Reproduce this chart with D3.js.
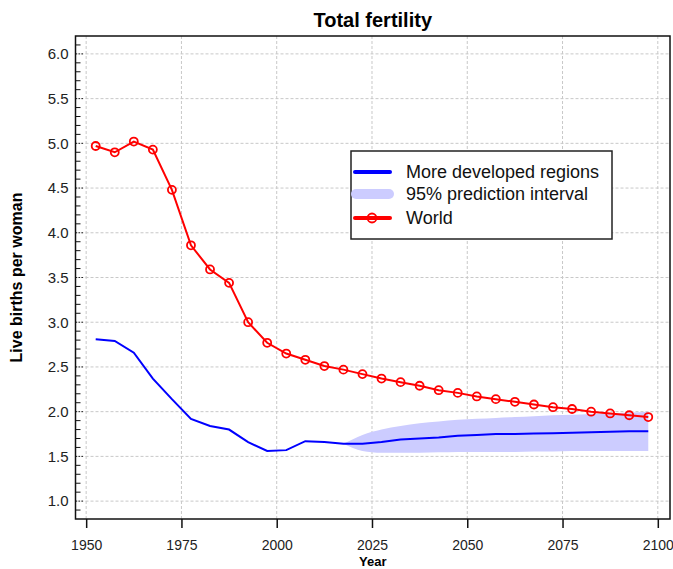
<!DOCTYPE html>
<html>
<head>
<meta charset="utf-8">
<script src="https://cdn.jsdelivr.net/npm/d3@7"></script>
<style>
  body { margin: 0; background: #fff; }
  text { font-family: "Liberation Sans", Arial, sans-serif; }
</style>
</head>
<body>
<div id="chart-root"></div>
<script>
// data (5-year period midpoints)
var years = [1952.5, 1957.5, 1962.5, 1967.5, 1972.5, 1977.5, 1982.5, 1987.5, 1992.5, 1997.5,
             2002.5, 2007.5, 2012.5, 2017.5, 2022.5, 2027.5, 2032.5, 2037.5, 2042.5, 2047.5,
             2052.5, 2057.5, 2062.5, 2067.5, 2072.5, 2077.5, 2082.5, 2087.5, 2092.5, 2097.5];
var world = [4.97, 4.90, 5.02, 4.93, 4.48, 3.86, 3.59, 3.44, 3.00, 2.77,
             2.65, 2.58, 2.51, 2.47, 2.42, 2.37, 2.33, 2.29, 2.24, 2.21,
             2.17, 2.14, 2.11, 2.08, 2.05, 2.03, 2.00, 1.98, 1.96, 1.94];
var developed = [2.81, 2.79, 2.66, 2.37, 2.14, 1.92, 1.84, 1.80, 1.66, 1.56,
                 1.57, 1.67, 1.66, 1.64, 1.64, 1.66, 1.69, 1.70, 1.71, 1.73,
                 1.74, 1.75, 1.75, 1.755, 1.76, 1.765, 1.77, 1.775, 1.78, 1.78];
// 95% prediction interval, starts at 2017.5
var piYears = [2017.5, 2022.5, 2027.5, 2032.5, 2037.5, 2042.5, 2047.5, 2052.5, 2057.5,
               2062.5, 2067.5, 2072.5, 2077.5, 2082.5, 2087.5, 2092.5, 2097.5];
var piLow  = [1.64, 1.56, 1.54, 1.54, 1.54, 1.545, 1.55, 1.55, 1.55,
              1.55, 1.555, 1.555, 1.56, 1.56, 1.56, 1.56, 1.56];
var piHigh = [1.64, 1.74, 1.80, 1.84, 1.87, 1.89, 1.91, 1.92, 1.93,
              1.94, 1.95, 1.96, 1.965, 1.975, 1.98, 1.99, 2.0];
var xTicks = [1950, 1975, 2000, 2025, 2050, 2075, 2100];
var yTicks = [1.0, 1.5, 2.0, 2.5, 3.0, 3.5, 4.0, 4.5, 5.0, 5.5, 6.0];
var legendLabels = ["More developed regions", "95% prediction interval", "World"];

(function () {
  var margin = { top: 36, left: 75.5, right: 3, bottom: 50 },
      width  = 673 - margin.left - margin.right,
      height = 569 - margin.top - margin.bottom;

  var svg = d3.select("#chart-root")
    .append("svg")
      .attr("width", 673)
      .attr("height", 569);

  var g = svg.append("g")
      .attr("transform", "translate(" + margin.left + "," + margin.top + ")");

  var x = d3.scaleLinear().domain([1947.2, 2103.2]).range([0, width]);
  var y = d3.scaleLinear().domain([0.8, 6.2]).range([height, 0]);

  // grid
  g.append("g").selectAll("line")
    .data(xTicks).enter().append("line")
      .attr("x1", d => x(d)).attr("x2", d => x(d))
      .attr("y1", 0).attr("y2", height)
      .attr("stroke", "#c8c8c8").attr("stroke-dasharray", "3,2");
  g.append("g").selectAll("line")
    .data(yTicks).enter().append("line")
      .attr("x1", 0).attr("x2", width)
      .attr("y1", d => y(d)).attr("y2", d => y(d))
      .attr("stroke", "#c8c8c8").attr("stroke-dasharray", "3,2");

  // dark dotted major y ticks + minor ticks inside the frame
  g.append("g").selectAll("line")
    .data(yTicks).enter().append("line")
      .attr("x1", 0).attr("x2", 9)
      .attr("y1", d => y(d)).attr("y2", d => y(d))
      .attr("stroke", "#222").attr("stroke-dasharray", "1.5,1.5");
  var minor = d3.range(9, 62).map(d => d / 10).filter(d => d % 0.5 > 0.01 && d % 0.5 < 0.49);
  g.append("g").selectAll("line")
    .data(minor).enter().append("line")
      .attr("x1", 0).attr("x2", 5)
      .attr("y1", d => y(d)).attr("y2", d => y(d))
      .attr("stroke", "#111").attr("stroke-width", 1);

  // prediction band
  var band = piYears.map((d, i) => ({ year: d, lo: piLow[i], hi: piHigh[i] }));
  g.append("path")
    .datum(band)
    .attr("fill", "#ccccff")
    .attr("d", d3.area()
      .curve(d3.curveMonotoneX)
      .x(d => x(d.year))
      .y0(d => y(d.lo))
      .y1(d => y(d.hi)));

  // more developed regions
  g.append("path")
    .datum(years.map((d, i) => [d, developed[i]]))
    .attr("fill", "none")
    .attr("stroke", "#0000ff")
    .attr("stroke-width", 2)
    .attr("d", d3.line().x(d => x(d[0])).y(d => y(d[1])));

  // world
  var worldPts = years.map((d, i) => [d, world[i]]);
  g.append("path")
    .datum(worldPts)
    .attr("fill", "none")
    .attr("stroke", "#ff0000")
    .attr("stroke-width", 2)
    .attr("d", d3.line().x(d => x(d[0])).y(d => y(d[1])));
  g.append("g").selectAll("circle")
    .data(worldPts).enter().append("circle")
      .attr("cx", d => x(d[0]))
      .attr("cy", d => y(d[1]))
      .attr("r", 4)
      .attr("fill", "none")
      .attr("stroke", "#ff0000")
      .attr("stroke-width", 1.8);

  // frame
  g.append("rect")
    .attr("width", width).attr("height", height)
    .attr("fill", "none").attr("stroke", "#111").attr("stroke-width", 1.5);

  // axes
  var xAxis = g.append("g")
    .attr("transform", "translate(0," + height + ")")
    .call(d3.axisBottom(x).tickValues(xTicks).tickFormat(d3.format("d")).tickSize(9).tickPadding(12));
  xAxis.select(".domain").remove();
  xAxis.selectAll("line").attr("stroke", "#111").attr("stroke-width", 1.5);
  xAxis.selectAll("text").attr("font-size", 14).attr("fill", "#222")
    .attr("font-family", "'Liberation Sans', Arial, sans-serif");

  var yAxis = g.append("g")
    .call(d3.axisLeft(y).tickValues(yTicks).tickFormat(d3.format(".1f")).tickSize(0).tickPadding(7));
  yAxis.select(".domain").remove();
  yAxis.selectAll("text").attr("font-size", 15).attr("fill", "#222")
    .attr("font-family", "'Liberation Sans', Arial, sans-serif");

  // titles
  svg.append("text")
    .attr("x", margin.left + width / 2).attr("y", 27)
    .attr("text-anchor", "middle")
    .attr("font-size", 20).attr("font-weight", "bold")
    .text("Total fertility");
  svg.append("text")
    .attr("x", margin.left + width / 2).attr("y", 566)
    .attr("text-anchor", "middle")
    .attr("font-size", 13).attr("font-weight", "bold")
    .text("Year");
  svg.append("text")
    .attr("transform", "translate(22," + (margin.top + height / 2) + ") rotate(-90)")
    .attr("text-anchor", "middle")
    .attr("font-size", 16).attr("font-weight", "bold")
    .text("Live births per woman");

  // legend
  var lg = svg.append("g").attr("transform", "translate(351,151)");
  lg.append("rect")
    .attr("width", 261).attr("height", 88)
    .attr("fill", "#fff").attr("stroke", "#222").attr("stroke-width", 1.5);
  var rowY = [21, 43, 67];
  lg.append("line").attr("x1", 4).attr("x2", 39).attr("y1", rowY[0]).attr("y2", rowY[0])
    .attr("stroke", "#0000ff").attr("stroke-width", 4).attr("stroke-linecap", "round");
  lg.append("line").attr("x1", 5).attr("x2", 38).attr("y1", rowY[1]).attr("y2", rowY[1])
    .attr("stroke", "#ccccff").attr("stroke-width", 10).attr("stroke-linecap", "round");
  lg.append("line").attr("x1", 4).attr("x2", 39).attr("y1", rowY[2]).attr("y2", rowY[2])
    .attr("stroke", "#ff0000").attr("stroke-width", 4).attr("stroke-linecap", "round");
  lg.append("circle").attr("cx", 21).attr("cy", rowY[2]).attr("r", 4.5)
    .attr("fill", "none").attr("stroke", "#ff0000").attr("stroke-width", 1.8);
  lg.selectAll("text.lab")
    .data(legendLabels).enter().append("text")
      .attr("class", "lab")
      .attr("x", 55)
      .attr("y", (d, i) => rowY[i])
      .attr("dy", "0.35em")
      .attr("font-size", 18)
      .attr("fill", "#111")
      .text(d => d);
})();
</script>
</body>
</html>
